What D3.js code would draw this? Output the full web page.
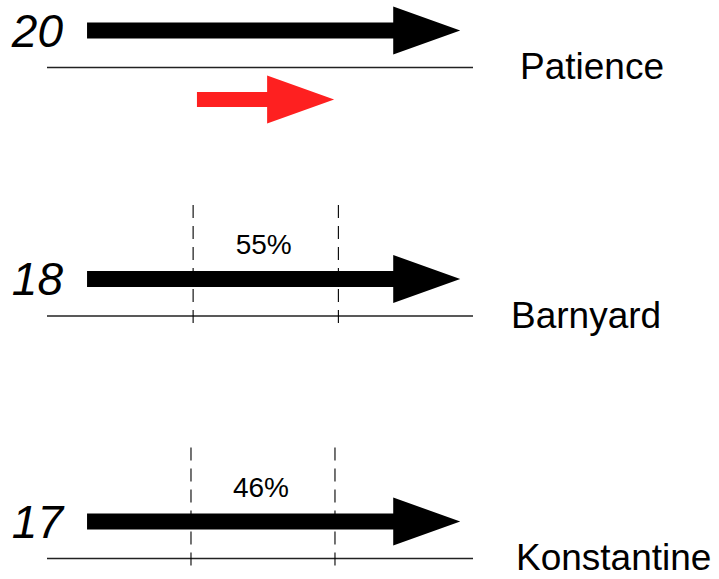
<!DOCTYPE html>
<html>
<head>
<meta charset="utf-8">
<script src="https://cdn.jsdelivr.net/npm/d3@7"></script>
<style>
  html, body { margin: 0; padding: 0; background: #fff; }
  svg { display: block; font-family: "Liberation Sans", Arial, sans-serif; }
</style>
</head>
<body>
<svg id="chart" width="719" height="579"></svg>
<script>
// ---- data ----
const categories   = ["Patience", "Barnyard", "Konstantine"];
const counts       = [20, 18, 17];
const arrowStart   = [9.4, 9.4, 9.4];
const arrowEnd     = [97, 97, 97];
const redStart     = [35.2, null, null];
const redEnd       = [67.4, null, null];
const rangeLow     = [null, 34.3, 33.8];
const rangeHigh    = [null, 68.4, 67.6];
const percentages  = [null, 55, 46];

// ---- layout ----
const svg = d3.select("#chart");
const x = d3.scaleLinear().domain([0, 100]).range([47, 473]);
const rowLineY = [67.5, 316, 558.5];
const labelX = [520, 511, 516];

const shaftHalf = 8, headHalf = 24, headLen = 67;
function arrowPath(x0, x1, cy, sh, hh, hl) {
  const b = x1 - hl;
  return d3.line()([
    [x0, cy - sh], [b, cy - sh], [b, cy - hh], [x1, cy],
    [b, cy + hh], [b, cy + sh], [x0, cy + sh]
  ]) + "Z";
}

const rows = categories.map((c, i) => ({
  name: c, count: counts[i], s: arrowStart[i], e: arrowEnd[i],
  rs: redStart[i], re: redEnd[i], lo: rangeLow[i], hi: rangeHigh[i],
  pct: percentages[i], lineY: rowLineY[i], lx: labelX[i]
}));

const g = svg.selectAll("g.row").data(rows).join("g").attr("class", "row");

// baseline
g.append("line")
  .attr("x1", x(0)).attr("x2", x(100))
  .attr("y1", d => d.lineY).attr("y2", d => d.lineY)
  .attr("stroke", "#222").attr("stroke-width", 1.5);

// dashed range lines
g.filter(d => d.lo != null).each(function(d) {
  const sel = d3.select(this);
  [d.lo, d.hi].forEach(v => {
    sel.append("line")
      .attr("x1", x(v)).attr("x2", x(v))
      .attr("y1", d.lineY - 111).attr("y2", d.lineY + 9)
      .attr("stroke", "#000").attr("stroke-width", 1.1)
      .attr("stroke-dasharray", "13,8");
  });
  sel.append("text")
    .attr("x", (x(d.lo) + x(d.hi)) / 2 - 2)
    .attr("y", d.lineY - 62)
    .attr("text-anchor", "middle")
    .attr("font-size", 28)
    .attr("fill", "#000")
    .text(d.pct + "%");
});

// black arrows
g.append("path")
  .attr("d", d => arrowPath(x(d.s), x(d.e), d.lineY - 37, shaftHalf, headHalf, headLen))
  .attr("fill", "#000");

// red arrow
g.filter(d => d.rs != null).append("path")
  .attr("d", d => arrowPath(x(d.rs), x(d.re), d.lineY + 32, 7.5, 24, 67))
  .attr("fill", "#fe2020");

// count labels
g.append("text")
  .attr("x", 63)
  .attr("y", d => d.lineY - 21)
  .attr("text-anchor", "end")
  .attr("font-size", 46)
  .attr("font-style", "italic")
  .attr("fill", "#000")
  .text(d => d.count);

// category labels
g.append("text")
  .attr("x", d => d.lx)
  .attr("y", d => d.lineY + 11.5)
  .attr("font-size", 37)
  .attr("fill", "#000")
  .text(d => d.name);
</script>
</body>
</html>
